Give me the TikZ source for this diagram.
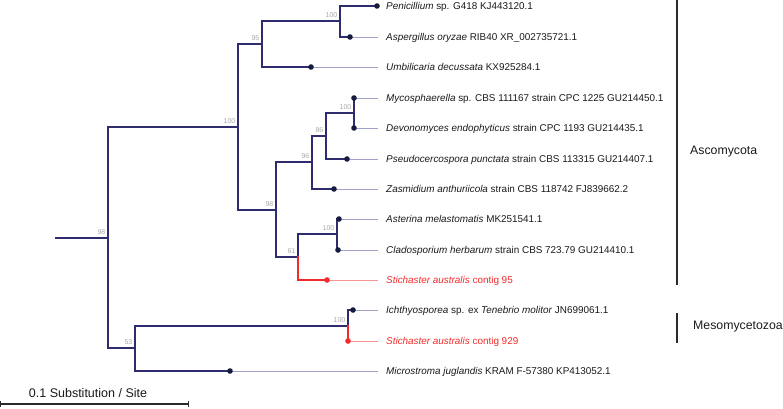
\documentclass[tikz,border=0pt]{standalone}
\usepackage{fontspec}
\setmainfont{Liberation Sans}
\definecolor{branch}{HTML}{2E2C6E}
\definecolor{dotc}{HTML}{151A3F}
\definecolor{tipc}{HTML}{A3A1CA}
\definecolor{redb}{HTML}{F42A2A}
\definecolor{redtipc}{HTML}{F79494}
\definecolor{bootc}{HTML}{A8A8A8}
\definecolor{txtc}{HTML}{1A1A1A}
\definecolor{barc}{HTML}{2A2A2A}
\begin{document}
\begin{tikzpicture}[x=1pt,y=-1pt,
  br/.style={draw=branch,line width=1.6pt,line cap=rect},
  redbr/.style={draw=redb,line width=1.6pt,line cap=rect},
  tipln/.style={draw=tipc,line width=0.8pt},
  redtipln/.style={draw=redtipc,line width=0.9pt},
  leafdot/.style={circle,fill=dotc,inner sep=0pt,minimum size=5.6pt},
  reddot/.style={circle,fill=redb,inner sep=0pt,minimum size=5.6pt},
  lab/.style={anchor=west,inner sep=0pt,text height=7.1pt,text depth=0pt,text=txtc,font=\fontsize{9.9}{11}\selectfont},
  redlab/.style={lab,text=redb},
  boot/.style={anchor=south east,inner sep=0pt,xshift=-2.5pt,yshift=2.8pt,text=bootc,font=\fontsize{7}{7}\selectfont},
  clade/.style={anchor=west,inner sep=0pt,text=txtc,font=\fontsize{12.3}{14}\selectfont},
  cbar/.style={draw=barc,line width=1.4pt},
  sbar/.style={draw=barc,line width=1.3pt}]
\useasboundingbox (0,0) rectangle (783,408);

% leaf positions (dots)
\coordinate (l1) at (377,6);
\coordinate (l2) at (350,37);
\coordinate (l3) at (311,67);
\coordinate (l4) at (354,98);
\coordinate (l5) at (354,128);
\coordinate (l6) at (347,159);
\coordinate (l7) at (334,189);
\coordinate (l8) at (339,219);
\coordinate (l9) at (338,250);
\coordinate (l10) at (327,280);
\coordinate (l11) at (353,310);
\coordinate (l12) at (348,341);
\coordinate (l13) at (230,371);

% internal nodes
\coordinate (A) at (340,21);
\coordinate (B) at (262,44);
\coordinate (C) at (354,113);
\coordinate (D) at (326,136);
\coordinate (E) at (312,162);
\coordinate (F) at (337,234);
\coordinate (G) at (298,257);
\coordinate (H) at (276,210);
\coordinate (I) at (238,127);
\coordinate (J) at (348,326);
\coordinate (K) at (135,348);
\coordinate (R) at (108,238);
\coordinate (R0) at (56,238);

% leaf labels
\node[lab] (t1) at (386,6) {\textit{Penicillium} sp. G418 KJ443120.1};
\node[lab] (t2) at (386,37) {\textit{Aspergillus oryzae} RIB40 XR\_002735721.1};
\node[lab] (t3) at (386,67) {\textit{Umbilicaria decussata} KX925284.1};
\node[lab] (t4) at (386,98) {\textit{Mycosphaerella} sp. CBS 111167 strain CPC 1225 GU214450.1};
\node[lab] (t5) at (386,128) {\textit{Devonomyces endophyticus} strain CPC 1193 GU214435.1};
\node[lab] (t6) at (386,159) {\textit{Pseudocercospora punctata} strain CBS 113315 GU214407.1};
\node[lab] (t7) at (386,189) {\textit{Zasmidium anthuriicola} strain CBS 118742 FJ839662.2};
\node[lab] (t8) at (386,219) {\textit{Asterina melastomatis} MK251541.1};
\node[lab] (t9) at (386,250) {\textit{Cladosporium herbarum} strain CBS 723.79 GU214410.1};
\node[redlab] (t10) at (386,280) {\textit{Stichaster australis} contig 95};
\node[lab] (t11) at (386,310) {\textit{Ichthyosporea} sp. ex \textit{Tenebrio molitor} JN699061.1};
\node[redlab] (t12) at (386,341) {\textit{Stichaster australis} contig 929};
\node[lab] (t13) at (386,371) {\textit{Microstroma juglandis} KRAM F-57380 KP413052.1};

% tip lines
\foreach \i in {1,2,3,4,5,6,7,8,9,11,13}{
  \draw[tipln] (l\i) -- ([xshift=-8pt]t\i.west);
}
\draw[redtipln] (l10) -- ([xshift=-8pt]t10.west);
\draw[redtipln] (l12) -- ([xshift=-8pt]t12.west);

% branches
\draw[br] (A) |- (l1);
\draw[br] (A) |- (l2);
\draw[br] (B) |- (A);
\draw[br] (B) |- (l3);
\draw[br] (C) |- (l4);
\draw[br] (C) |- (l5);
\draw[br] (D) |- (C);
\draw[br] (D) |- (l6);
\draw[br] (E) |- (D);
\draw[br] (E) |- (l7);
\draw[br] (F) |- (l8);
\draw[br] (F) |- (l9);
\draw[br] (G) |- (F);
\draw[br] (H) |- (E);
\draw[br] (H) |- (G);
\draw[br] (I) |- (B);
\draw[br] (I) |- (H);
\draw[br] (J) |- (l11);
\draw[br] (K) |- (J);
\draw[br] (K) |- (l13);
\draw[br] (R) |- (I);
\draw[br] (R) |- (K);
\draw[br] (R0) -- (R);
\draw[redbr] (G) |- (l10);
\draw[redbr] (J) |- (l12);

% dots
\foreach \i in {1,2,3,4,5,6,7,8,9,11,13}{
  \node[leafdot] (d\i) at (l\i) {};
}
\node[reddot] (d10) at (l10) {};
\node[reddot] (d12) at (l12) {};

% bootstrap values
\node[boot] (bA) at (A) {100};
\node[boot] (bB) at (B) {95};
\node[boot] (bC) at (C) {100};
\node[boot] (bD) at (D) {86};
\node[boot] (bE) at (E) {96};
\node[boot] (bF) at (F) {100};
\node[boot] (bG) at (G) {61};
\node[boot] (bH) at (H) {98};
\node[boot] (bI) at (I) {100};
\node[boot] (bJ) at (J) {100};
\node[boot] (bK) at (K) {53};
\node[boot] (bR) at (R) {98};

% clade bars
\coordinate (a0) at (677,0);
\coordinate (a1) at (677,285);
\draw[cbar] (a0) -- (a1);
\node[clade] (asc) at (690,152) {Ascomycota};
\coordinate (m0) at (677,313);
\coordinate (m1) at (677,343);
\draw[cbar] (m0) -- (m1);
\node[clade] (meso) at (693,327) {Mesomycetozoa};

% scale bar
\coordinate (s0) at (0.7,404);
\coordinate (s1) at (188.5,404);
\draw[sbar] (s0) -- (s1);
\draw[sbar] ([yshift=3pt]s0) -- ([yshift=-3pt]s0);
\draw[sbar] ([yshift=3pt]s1) -- ([yshift=-3pt]s1);
\node[inner sep=0pt,text=txtc,font=\fontsize{12.5}{14}\selectfont] (stxt) at (88,393) {0.1 Substitution / Site};
\end{tikzpicture}
\end{document}
